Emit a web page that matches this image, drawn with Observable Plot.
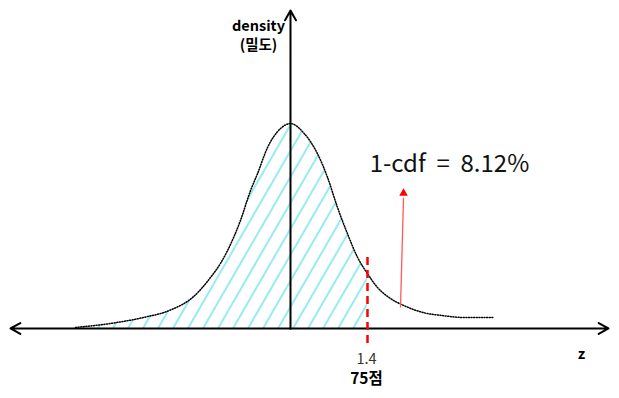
<!DOCTYPE html>
<html>
<head>
<meta charset="utf-8">
<script src="https://cdn.jsdelivr.net/npm/d3@7"></script>
<script src="https://cdn.jsdelivr.net/npm/@observablehq/plot@0.6"></script>
<style>
  html, body { margin: 0; padding: 0; background: #fff; }
  #chart svg { display: block; }
</style>
</head>
<body>
<div id="chart"></div>
<script>
// Density curve (z, density)
const zValues = [-3.909, -3.273, -2.673, -2.182, -1.764, -1.455, -1.273, -1.145, -0.909, -0.727, -0.6, -0.418, -0.182, 0,
  0.236, 0.491, 0.673, 0.855, 1.036, 1.218, 1.4, 1.582, 1.818, 2.055, 2.418, 2.782, 3.145, 3.691];
const densityValues = [0.002, 0.0098, 0.0215, 0.036, 0.062, 0.0995, 0.127, 0.152, 0.211, 0.269, 0.302, 0.353, 0.390, 0.400,
  0.382, 0.341, 0.295, 0.236, 0.185, 0.139, 0.107, 0.080, 0.0585, 0.045, 0.031, 0.025, 0.0215, 0.0215];
const zCut = 1.4;
const scoreLabel = "75점";
const tailText = "1-cdf = 8.12%";
const yLabel = ["density", "(밀도)"];
const xLabel = "z";

const curve = zValues.map((z, i) => ({z, d: densityValues[i]}));
const shaded = curve.filter(p => p.z <= zCut);

const xDomain = [-5.2727, 5.9818];
const yDomain = [-0.1366, 0.64];
const axisX = [-5.091, 5.782];
const axisTop = 0.6205;

const font = "'Noto Sans CJK KR', 'Noto Sans', sans-serif";

const svg = Plot.plot({
  width: 619,
  height: 398,
  marginTop: 0, marginBottom: 0, marginLeft: 0, marginRight: 0,
  x: {domain: xDomain, axis: null},
  y: {domain: yDomain, axis: null},
  style: {fontFamily: font, background: "#fff"},
  marks: [
    Plot.areaY(shaded, {x: "z", y: "d", fill: "url(#hatch)", curve: "monotone-x"}),
    Plot.line(curve, {x: "z", y: "d", stroke: "#000", strokeWidth: 1.5, strokeDasharray: "1,1.6", curve: "monotone-x"}),
    // axes with arrowheads
    Plot.arrow([{x1: 0, x2: axisX[1]}, {x1: 0, x2: axisX[0]}], {x1: "x1", x2: "x2", y1: 0, y2: 0, stroke: "#000", strokeWidth: 2, headLength: 8.4, headAngle: 58}),
    Plot.arrow([{y2: axisTop}], {x1: 0, x2: 0, y1: 0, y2: "y2", stroke: "#000", strokeWidth: 2, headLength: 8.4, headAngle: 58}),
    // cut line
    Plot.ruleX([zCut], {y1: 0.1385, y2: -0.0332, stroke: "#ff0000", strokeWidth: 2.5, strokeDasharray: "8,5"}),
    // red pointer
    Plot.link([{x1: 2.0, y1: 0.041, x2: 2.055, y2: 0.255}], {x1: "x1", y1: "y1", x2: "x2", y2: "y2", stroke: "#ff5a5a", strokeWidth: 1.3}),
    Plot.dot([{x: 2.055, y: 0.264}], {x: "x", y: "y", symbol: "triangle", r: 3.2, fill: "#ff0000", stroke: "none"}),
    Plot.text([tailText], {x: 2.891, y: 0.32, text: d => d.replace(/ = /, "  =  "), fontSize: 24, fill: "#111"}),
    // labels
    Plot.text([yLabel[0]], {x: -0.582, y: 0.589, text: d => d, fontSize: 14.5, fontWeight: "bold", fill: "#000"}),
    Plot.text([yLabel[1]], {x: -0.582, y: 0.552, text: d => d, fontSize: 14.5, fontWeight: "bold", fill: "#000"}),
    Plot.text([xLabel], {x: 5.29, y: -0.0507, text: d => d, fontSize: 14.5, fontWeight: "bold", fill: "#000"}),
    Plot.text([String(zCut)], {x: zCut - 0.018, y: -0.0605, text: d => d, fontSize: 14.5, fill: "#333"}),
    Plot.text([scoreLabel], {x: zCut - 0.018, y: -0.0995, text: d => d, fontSize: 15.5, fontWeight: "bold", fill: "#000"})
  ]
});

const defs = d3.select(svg).insert("defs", ":first-child");
const pat = defs.append("pattern")
  .attr("id", "hatch")
  .attr("patternUnits", "userSpaceOnUse")
  .attr("width", 13)
  .attr("height", 13)
  .attr("patternTransform", "rotate(30)");
pat.append("line")
  .attr("x1", 2).attr("y1", 0).attr("x2", 2).attr("y2", 13)
  .attr("stroke", "#3ddde3").attr("stroke-width", 1.1);

document.getElementById("chart").appendChild(svg);
</script>
</body>
</html>
